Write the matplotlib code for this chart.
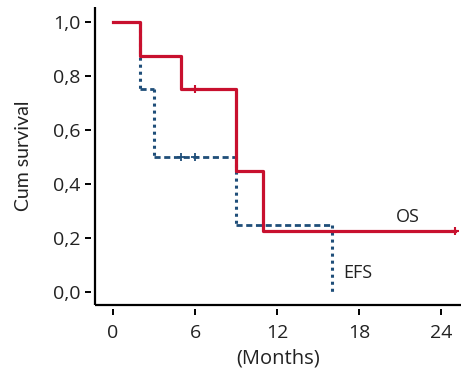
import matplotlib.pyplot as plt

# Kaplan-Meier data
os_t = [0, 2, 5, 9, 11, 25]
os_s = [1.0, 0.875, 0.75, 0.45, 0.225, 0.225]
os_cens_t = [6, 25]
os_cens_s = [0.75, 0.225]

efs_t = [0, 2, 3, 9, 16]
efs_s = [1.0, 0.75, 0.5, 0.25, 0.0]
efs_cens_t = [5, 6]
efs_cens_s = [0.5, 0.5]

x_ticks = [0, 6, 12, 18, 24]
y_ticks = [0.0, 0.2, 0.4, 0.6, 0.8, 1.0]
y_tick_labels = ['0,0', '0,2', '0,4', '0,6', '0,8', '1,0']

red = '#C8102E'
blue = '#1F4E79'

plt.rcParams['font.family'] = ['Open Sans', 'DejaVu Sans']

fig = plt.figure(figsize=(4.61, 3.79), dpi=100)
ax = fig.add_axes([0.206, 0.195, 0.794, 0.787])

# EFS: horizontal parts dashed, vertical parts dotted
for i in range(len(efs_t) - 1):
    ax.plot([efs_t[i], efs_t[i + 1]], [efs_s[i], efs_s[i]], color=blue, lw=2.0,
            linestyle=(0, (2.2, 1.3)), dash_capstyle='butt')
    ax.plot([efs_t[i + 1], efs_t[i + 1]], [efs_s[i], efs_s[i + 1]], color=blue, lw=2.2,
            linestyle=(0, (1.0, 1.3)), dash_capstyle='butt')
ax.plot(efs_cens_t, efs_cens_s, '+', color=blue, ms=6, mew=1.3)

# OS
ax.plot(os_t, os_s, drawstyle='steps-post', color=red, lw=2.3)
ax.plot(os_cens_t, os_cens_s, '+', color=red, ms=6, mew=1.5)

ax.text(21.6, 0.245, 'OS', fontsize=13, color='#222222', ha='center', va='bottom')
ax.text(17.9, 0.07, 'EFS', fontsize=13, color='#222222', ha='center', va='center')

ax.set_xlim(-1.32, 25.46)
ax.set_ylim(-0.048, 1.056)

ax.set_xticks(x_ticks)
ax.set_yticks(y_ticks)
ax.set_yticklabels(y_tick_labels)

# ticks sit slightly away from the axis lines
for side in ['top', 'right']:
    ax.spines[side].set_visible(False)
for side in ['left', 'bottom']:
    ax.spines[side].set_position(('outward', 2.5))
    ax.spines[side].set_visible(False)
ax.plot([0, 0], [0, 1], transform=ax.transAxes, color='black', lw=1.6, clip_on=False,
        solid_capstyle='butt')
ax.plot([0, 1], [0, 0], transform=ax.transAxes, color='black', lw=1.6, clip_on=False,
        solid_capstyle='butt')

ax.tick_params(axis='both', direction='out', length=4, width=1.4, labelsize=14,
               colors='black', labelcolor='#222222')
ax.tick_params(axis='x', pad=7)
ax.tick_params(axis='y', pad=4)

ax.set_xlabel('(Months)', fontsize=14.5, labelpad=5, color='#222222')
ax.set_ylabel('Cum survival', fontsize=14, labelpad=15, color='#222222',
              family=['Lato', 'DejaVu Sans'])

fig.savefig('out.png', dpi=100)
